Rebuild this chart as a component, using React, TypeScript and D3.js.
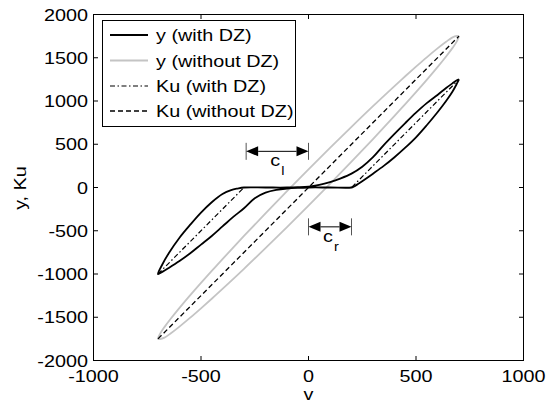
import React from 'react';
import * as d3 from 'd3';

const W = 548;
const H = 406;

const X_TICKS = [-1000, -500, 0, 500, 1000];
const Y_TICKS = [-2000, -1500, -1000, -500, 0, 500, 1000, 1500, 2000];
const LEGEND_LABELS = ['y (with DZ)', 'y (without DZ)', 'Ku (with DZ)', 'Ku (without DZ)'];

// y (with DZ): hysteresis loop with dead zone (v, y)
const yWithDZ: [number, number][] = [
  [700, 1250], [690, 1240], [670, 1205], [640, 1150], [600, 1070], [550, 975], [500, 865],
  [450, 745], [400, 620], [350, 490], [300, 350], [250, 240], [200, 160], [150, 105],
  [100, 62], [50, 30], [0, 10], [-50, 3], [-100, 0], [-200, 0], [-300, 0], [-330, -12],
  [-360, -30], [-400, -75], [-450, -170], [-500, -290], [-550, -430], [-600, -580],
  [-650, -760], [-680, -890], [-700, -1000],
  [-680, -975], [-650, -930], [-600, -850], [-550, -760], [-500, -660], [-450, -560],
  [-400, -450], [-350, -340], [-300, -240], [-250, -125], [-200, -60], [-150, -28],
  [-100, -12], [-50, -4], [0, 0], [100, 0], [200, 0], [210, 10], [230, 40], [260, 90],
  [300, 160], [350, 250], [400, 350], [450, 460], [500, 580], [550, 720], [600, 870],
  [640, 1000], [670, 1110], [690, 1200], [700, 1250],
];

// y (without DZ): hysteresis loop (v, y)
const yWithoutDZ: [number, number][] = [
  [700, 1750], [690, 1752], [670, 1736], [640, 1685], [600, 1608], [550, 1505], [500, 1397],
  [450, 1286], [400, 1172], [300, 940], [200, 701], [100, 458], [0, 210], [-100, -42],
  [-200, -299], [-300, -560], [-400, -828], [-450, -964], [-500, -1103], [-550, -1245],
  [-600, -1392], [-640, -1515], [-670, -1614], [-690, -1690], [-700, -1750],
  [-690, -1752], [-670, -1736], [-640, -1685], [-600, -1608], [-550, -1505], [-500, -1397],
  [-450, -1286], [-400, -1172], [-300, -940], [-200, -701], [-100, -458], [0, -210],
  [100, 42], [200, 299], [300, 560], [400, 828], [450, 964], [500, 1103], [550, 1245],
  [600, 1392], [640, 1515], [670, 1614], [690, 1690], [700, 1750],
];

const kuWithDZ: [number, number][] = [[-700, -1000], [-300, 0], [200, 0], [700, 1250]];
const kuWithoutDZ: [number, number][] = [[-700, -1750], [700, 1750]];

// annotation extents (v) and heights (y)
const C_L: [number, number] = [-290, 0];
const C_L_Y = 418;
const C_R: [number, number] = [0, 200];
const C_R_Y = -455;

const FONT = '"Liberation Sans", Arial, Helvetica, sans-serif';
const SX = 1.2;
const FS = 16.5;

function T({ x, y, children, anchor = 'start', size = FS, rotate = 0 }: any) {
  return (
    <g transform={`translate(${x},${y}) rotate(${rotate}) scale(${SX},1)`}>
      <text textAnchor={anchor} fontSize={size} fontFamily={FONT} fill="#000">{children}</text>
    </g>
  );
}

function Arrow({ x1, x2, yy }: { x1: number; x2: number; yy: number }) {
  const hl = 12;
  const hw = 5;
  return (
    <g>
      <line x1={x1} x2={x1} y1={yy - 8.5} y2={yy + 8.5} stroke="#555" strokeWidth={1} />
      <line x1={x2} x2={x2} y1={yy - 8.5} y2={yy + 8.5} stroke="#555" strokeWidth={1} />
      <line x1={x1 + hl} x2={x2 - hl} y1={yy} y2={yy} stroke="#000" strokeWidth={1} />
      <path d={`M${x1},${yy}L${x1 + hl},${yy - hw}L${x1 + hl},${yy + hw}Z`} fill="#000" />
      <path d={`M${x2},${yy}L${x2 - hl},${yy - hw}L${x2 - hl},${yy + hw}Z`} fill="#000" />
    </g>
  );
}

export default function App() {
  const x = d3.scaleLinear().domain([-1000, 1000]).range([93.5, 523.5]);
  const y = d3.scaleLinear().domain([-2000, 2000]).range([360.5, 14.5]);
  const line = d3.line<[number, number]>().x((d) => x(d[0])).y((d) => y(d[1]));
  const smooth = d3
    .line<[number, number]>()
    .x((d) => x(d[0]))
    .y((d) => y(d[1]))
    .curve(d3.curveCatmullRom.alpha(0.5));

  const [x0, x1] = x.range();
  const [y0, y1] = y.range();
  const tl = 4.5;

  const legendX = 102.5;
  const legendY = 20.5;
  const rows = [35, 60.5, 86, 111];

  const styles = [
    { stroke: '#000', width: 1.8, dash: undefined },
    { stroke: '#c4c4c4', width: 1.8, dash: undefined },
    { stroke: '#000', width: 1.2, dash: '5,2.5,1.5,2.5' },
    { stroke: '#000', width: 1.3, dash: '5,3' },
  ];

  const cl1 = x(C_L[0]);
  const cl2 = x(C_L[1]);
  const cly = y(C_L_Y);
  const cr1 = x(C_R[0]);
  const cr2 = x(C_R[1]);
  const cry = y(C_R_Y);

  return (
    <svg width={W} height={H} style={{ position: 'absolute', left: 0, top: 0, background: '#fff' }}>
      <rect x={0} y={0} width={W} height={H} fill="#fff" />
      {/* data */}
      <path d={smooth(yWithoutDZ) || ''} fill="none" stroke={styles[1].stroke} strokeWidth={styles[1].width} />
      <path d={smooth(yWithDZ) || ''} fill="none" stroke={styles[0].stroke} strokeWidth={styles[0].width} strokeLinejoin="round" />
      <path d={line(kuWithDZ) || ''} fill="none" stroke="#000" strokeWidth={styles[2].width} strokeDasharray={styles[2].dash} />
      <path d={line(kuWithoutDZ) || ''} fill="none" stroke="#000" strokeWidth={styles[3].width} strokeDasharray={styles[3].dash} />

      {/* annotations */}
      <Arrow x1={cl1} x2={cl2} yy={cly} />
      <T x={(cl1 + cl2) / 2 - 7} y={cly + 15}>c</T>
      <T x={(cl1 + cl2) / 2 + 4} y={cly + 24} size={12}>l</T>
      <Arrow x1={cr1} x2={cr2} yy={cry} />
      <T x={(cr1 + cr2) / 2 - 7} y={cry + 15}>c</T>
      <T x={(cr1 + cr2) / 2 + 4} y={cry + 24} size={12}>r</T>

      {/* axes box */}
      <rect x={x0} y={y1} width={x1 - x0} height={y0 - y1} fill="none" stroke="#000" strokeWidth={1} />
      {X_TICKS.map((t) => (
        <g key={'x' + t}>
          <line x1={x(t)} x2={x(t)} y1={y0} y2={y0 - tl} stroke="#000" />
          <line x1={x(t)} x2={x(t)} y1={y1} y2={y1 + tl} stroke="#000" />
          <T x={x(t)} y={y0 + 21} anchor="middle">{String(t)}</T>
        </g>
      ))}
      {Y_TICKS.map((t) => (
        <g key={'y' + t}>
          <line x1={x0} x2={x0 + tl} y1={y(t)} y2={y(t)} stroke="#000" />
          <line x1={x1} x2={x1 - tl} y1={y(t)} y2={y(t)} stroke="#000" />
          <T x={88} y={y(t) + 6} anchor="end">{String(t)}</T>
        </g>
      ))}
      <T x={(x0 + x1) / 2} y={400} anchor="middle">v</T>
      <T x={26} y={188} anchor="middle" rotate={-90}>y, Ku</T>

      {/* legend */}
      <rect x={legendX} y={legendY} width={193} height={106} fill="#fff" stroke="#000" strokeWidth={1} />
      {LEGEND_LABELS.map((lab, i) => (
        <g key={lab}>
          <line x1={110} x2={148} y1={rows[i]} y2={rows[i]} stroke={styles[i].stroke} strokeWidth={styles[i].width} strokeDasharray={styles[i].dash} />
          <T x={156} y={rows[i] + 6}>{lab}</T>
        </g>
      ))}
    </svg>
  );
}
